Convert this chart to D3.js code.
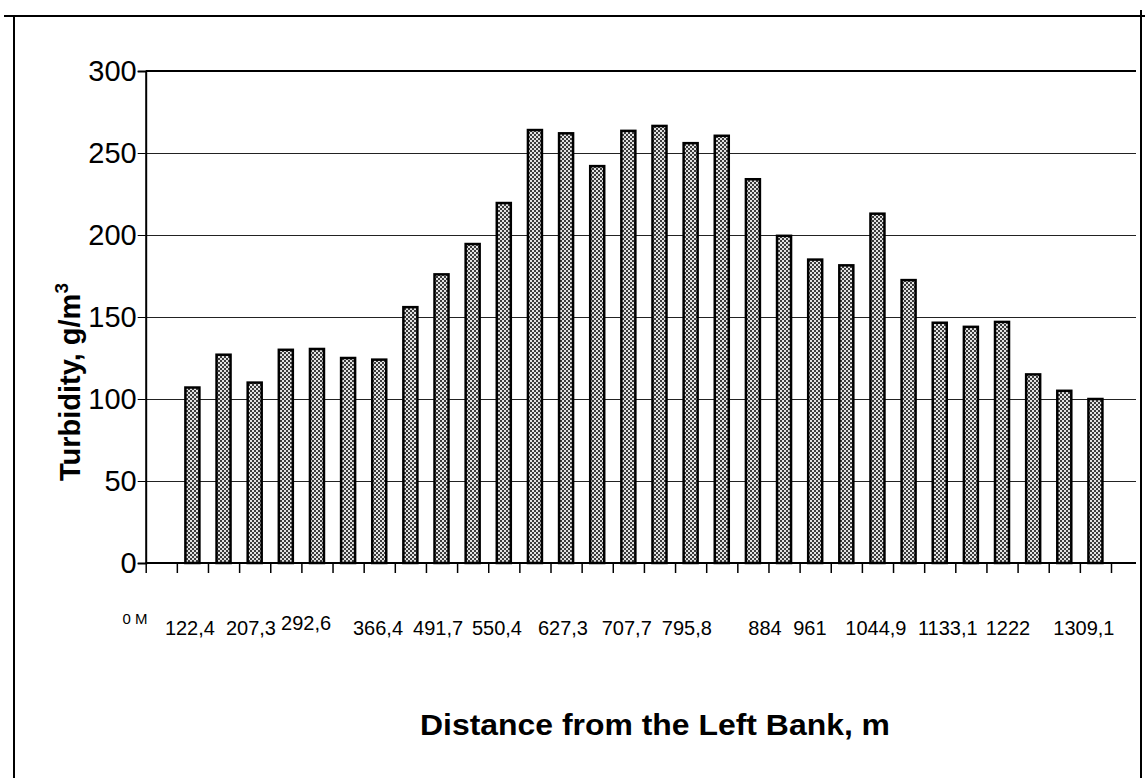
<!DOCTYPE html>
<html>
<head>
<meta charset="utf-8">
<script src="https://cdn.jsdelivr.net/npm/d3@7"></script>
<style>
  html, body { margin: 0; padding: 0; background: #fff; }
  svg { display: block; }
  svg text { font-family: "Liberation Sans", Arial, sans-serif; fill: #000; }
</style>
</head>
<body>
<svg id="chart" width="1145" height="778"></svg>
<script>
// ---- data ----
// slot 0 is the left bank (no bar); slots 1..30 are the measuring verticals
const slots = d3.range(31);
const turbidity = [null, 107, 127, 110, 130, 130.5, 125, 124, 156, 176, 194.5, 219.5,
  264, 262, 242, 263.5, 266.5, 256, 260.5, 234, 199.5, 185, 181.5, 213, 172.5,
  146.5, 144, 147, 115, 105, 100];
const distanceLabels = ["0 М", "122,4", "207,3", "292,6", "366,4", "491,7", "550,4",
  "627,3", "707,7", "795,8", "884", "961", "1044,9", "1133,1", "1222", "1309,1"];
// where each distance label is centred along the axis, in category units
const labelSlot = [-0.34, 1.42, 3.38, 5.15, 7.46, 9.39, 11.28, 13.4, 15.45, 17.38,
  19.89, 21.33, 23.45, 25.76, 27.69, 30.13];
const yTicks = [0, 50, 100, 150, 200, 250, 300];
const yTitle = "Turbidity, g/m";
const xTitle = "Distance from the Left Bank, m";

// ---- layout ----
const FONT = "'Liberation Sans', Arial, sans-serif";
const svg = d3.select("#chart");
const plotL = 145.7, plotR = 1136, yTop = 71, yBase = 563;
const x = d3.scaleBand().domain(slots).range([plotL, 1111]).paddingInner(0.55).paddingOuter(0.275);
const xPos = d3.scaleLinear().domain([0, slots.length]).range([plotL, 1111]);
const y = d3.scaleLinear().domain([0, 300]).range([yBase, yTop]);

// pattern for bars
const defs = svg.append("defs");
const pat = defs.append("pattern").attr("id", "dots").attr("patternUnits", "userSpaceOnUse")
  .attr("width", 4).attr("height", 4);
pat.append("rect").attr("width", 4).attr("height", 4).attr("fill", "#e2e2e2");
pat.append("rect").attr("x", 0).attr("y", 0).attr("width", 2).attr("height", 2).attr("fill", "#3c3c3c");
pat.append("rect").attr("x", 2).attr("y", 2).attr("width", 2).attr("height", 2).attr("fill", "#3c3c3c");

// outer frame
svg.append("line").attr("x1", 4).attr("x2", 1145).attr("y1", 16).attr("y2", 16)
  .attr("stroke", "#000").attr("stroke-width", 2);
svg.append("line").attr("x1", 14).attr("x2", 14).attr("y1", 16).attr("y2", 778)
  .attr("stroke", "#000").attr("stroke-width", 2);
svg.append("line").attr("x1", 1141).attr("x2", 1141).attr("y1", 10).attr("y2", 778)
  .attr("stroke", "#000").attr("stroke-width", 2);

// gridlines
svg.append("g").selectAll("line").data(yTicks.filter(d => d > 0 && d < 300)).join("line")
  .attr("x1", plotL).attr("x2", plotR)
  .attr("y1", d => Math.round(y(d)) + 0.5).attr("y2", d => Math.round(y(d)) + 0.5)
  .attr("stroke", "#222").attr("stroke-width", 1);
// top of plot
svg.append("line").attr("x1", plotL).attr("x2", plotR).attr("y1", y(300)).attr("y2", y(300))
  .attr("stroke", "#000").attr("stroke-width", 2);

// bars
svg.append("g").selectAll("rect").data(slots.filter(i => turbidity[i] != null)).join("rect")
  .attr("x", i => x(i))
  .attr("y", i => y(turbidity[i]))
  .attr("width", x.bandwidth())
  .attr("height", i => yBase - y(turbidity[i]))
  .attr("fill", "url(#dots)")
  .attr("stroke", "#000").attr("stroke-width", 2.5);

// y axis
const yAxis = d3.axisLeft(y).tickValues(yTicks).tickSize(8).tickPadding(1);
const gy = svg.append("g").attr("transform", `translate(${plotL},0)`).call(yAxis);
gy.attr("font-family", FONT);
gy.select(".domain").attr("stroke", "#000").attr("stroke-width", 2);
gy.selectAll(".tick line").attr("stroke", "#000");
gy.selectAll(".tick text").attr("font-size", 29).attr("font-family", FONT)
  .attr("fill", "#000").attr("dy", "0.33em");

// x axis
const xAxis = d3.axisBottom(xPos).tickValues(d3.range(slots.length + 1)).tickSize(10).tickFormat("");
const gx = svg.append("g").attr("transform", `translate(0,${yBase})`).call(xAxis);
gx.select(".domain").remove();
gx.selectAll(".tick line").attr("stroke", "#000").attr("stroke-width", 1.5);
svg.append("line").attr("x1", plotL).attr("x2", plotR).attr("y1", yBase).attr("y2", yBase)
  .attr("stroke", "#000").attr("stroke-width", 2);

// distance labels
svg.append("g").selectAll("text").data(distanceLabels).join("text")
  .attr("x", (d, i) => xPos(labelSlot[i]))
  .attr("y", (d, i) => i === 0 ? 624 : (i === 3 ? 630 : 635))
  .attr("text-anchor", "middle")
  .attr("font-family", FONT)
  .attr("font-size", (d, i) => i === 0 ? 15 : 20)
  .text(d => d);

// axis titles
const yt = svg.append("text")
  .attr("transform", `translate(80,382) rotate(-90)`)
  .attr("text-anchor", "middle").attr("font-family", FONT)
  .attr("font-weight", "bold").attr("font-size", 29);
yt.append("tspan").text(yTitle);
yt.append("tspan").attr("font-size", 19).attr("dy", -12).text("3");

svg.append("text").attr("x", 655).attr("y", 735).attr("text-anchor", "middle")
  .attr("font-family", FONT)
  .attr("font-weight", "bold").attr("font-size", 29)
  .attr("textLength", 470).attr("lengthAdjust", "spacingAndGlyphs")
  .text(xTitle);
</script>
</body>
</html>
